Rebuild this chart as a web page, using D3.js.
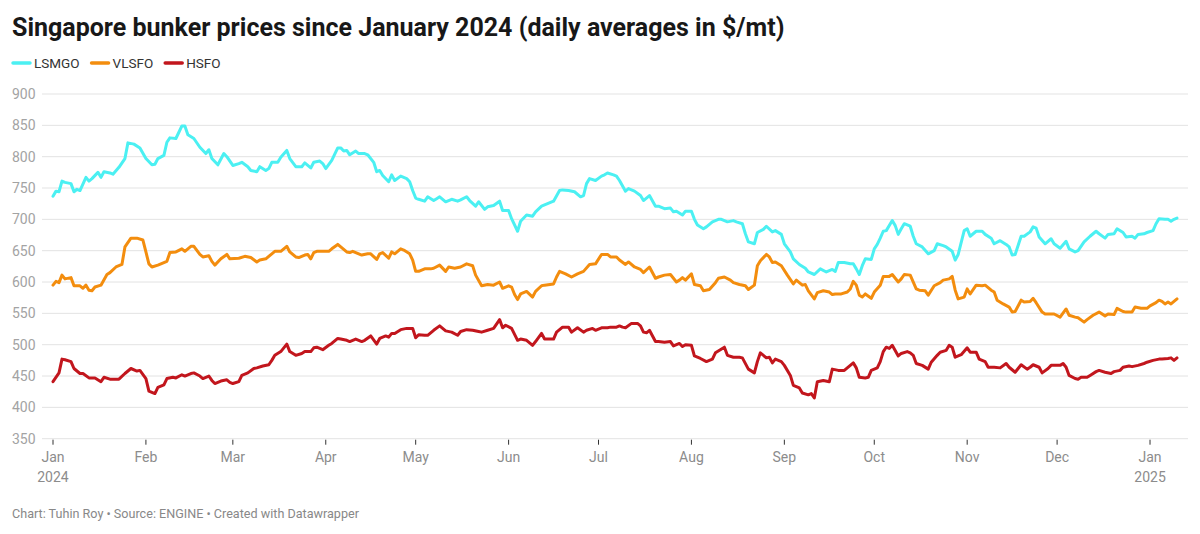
<!DOCTYPE html>
<html>
<head>
<meta charset="utf-8">
<script src="https://cdn.jsdelivr.net/npm/d3@7"></script>
<style>
    body { margin: 0; background: #fff; font-family: Roboto, "Noto Sans", sans-serif; }
</style>
</head>
<body>
<div id="chart"></div>
<script>
// day offsets from 1 Jan 2024, daily average price in $/mt
const startDate = new Date(2024, 0, 1);

const lsmgo = [[0,737],[1,745],[2,744],[3,761],[4,759],[6,757],[7,744],[8,748],[9,746],[11,767],[12,761],[13,765],[15,775],[16,767],[17,776],[19,774],[20,772],[22,783],[24,797],[25,822],[27,820],[29,814],[31,797],[33,787],[34,788],[35,797],[37,802],[38,823],[39,830],[41,829],[42,839],[43,849],[44,849],[45,835],[47,829],[49,815],[51,805],[52,811],[53,797],[55,787],[57,805],[58,800],[60,786],[62,789],[63,791],[65,784],[66,778],[68,776],[69,784],[71,778],[72,781],[73,791],[75,791],[76,799],[78,810],[79,797],[81,784],[83,784],[84,790],[86,782],[87,791],[89,793],[90,789],[91,781],[93,794],[95,814],[96,814],[97,809],[98,810],[99,803],[101,809],[102,805],[104,805],[105,803],[107,791],[108,776],[109,778],[110,770],[112,760],[113,771],[114,762],[116,769],[118,765],[119,760],[120,746],[121,734],[122,732],[124,729],[125,736],[127,730],[128,733],[129,736],[131,728],[132,730],[133,732],[135,729],[136,731],[138,736],[139,730],[141,721],[142,728],[144,716],[145,720],[147,722],[149,729],[150,714],[152,714],[153,701],[155,681],[156,697],[158,707],[160,705],[161,712],[163,721],[164,723],[167,729],[169,746],[170,747],[172,746],[174,744],[176,736],[177,738],[178,757],[179,765],[181,762],[183,769],[184,771],[185,774],[187,771],[188,769],[189,762],[191,745],[192,749],[194,745],[196,738],[197,730],[198,734],[199,738],[201,721],[202,721],[204,717],[206,718],[207,712],[208,713],[210,707],[211,713],[213,713],[214,700],[215,691],[217,685],[218,688],[220,696],[222,700],[223,700],[225,696],[227,698],[228,696],[230,693],[231,677],[232,664],[234,661],[235,679],[237,684],[238,689],[240,680],[241,682],[243,676],[244,661],[246,648],[247,637],[249,628],[251,622],[252,616],[254,612],[256,621],[258,616],[260,620],[261,617],[262,631],[264,631],[266,629],[267,629],[268,621],[269,612],[270,626],[271,637],[273,636],[274,653],[275,660],[276,670],[277,681],[278,682],[280,698],[281,690],[282,676],[283,685],[284,693],[286,689],[287,673],[288,661],[290,656],[292,645],[294,650],[295,661],[297,658],[298,656],[300,649],[301,635],[302,644],[304,682],[305,685],[306,673],[308,681],[310,681],[311,676],[313,670],[314,661],[316,666],[318,660],[319,656],[320,643],[321,644],[323,673],[324,673],[326,680],[327,688],[328,686],[329,672],[331,661],[333,669],[334,661],[336,654],[338,665],[339,653],[341,648],[342,650],[344,664],[346,673],[348,681],[349,677],[351,670],[352,676],[354,677],[355,685],[357,679],[358,672],[360,673],[361,670],[362,676],[364,677],[365,679],[367,682],[368,693],[369,701],[371,700],[372,700],[373,697],[374,700],[375,702]];

const vlsfo = [[0,595],[1,601],[2,599],[3,611],[4,605],[6,607],[7,594],[9,594],[10,590],[11,595],[12,587],[13,586],[14,592],[16,595],[18,612],[19,615],[21,624],[23,628],[24,656],[26,670],[28,670],[30,667],[31,648],[32,629],[33,624],[35,627],[37,631],[38,633],[39,647],[41,648],[43,653],[44,649],[46,657],[47,657],[49,644],[50,640],[52,642],[53,633],[54,627],[56,637],[58,644],[59,637],[62,638],[64,641],[66,639],[68,632],[69,635],[71,637],[73,645],[74,649],[76,649],[78,657],[79,648],[81,640],[82,639],[84,643],[85,644],[86,637],[87,647],[88,649],[90,649],[92,649],[93,653],[95,660],[96,656],[98,648],[99,647],[100,649],[102,645],[103,643],[105,645],[106,645],[108,636],[109,645],[110,647],[112,638],[113,648],[114,645],[116,653],[117,651],[119,645],[120,635],[121,617],[122,617],[124,621],[126,621],[127,622],[129,627],[131,617],[132,624],[134,622],[136,624],[138,629],[140,626],[141,611],[143,594],[145,596],[147,595],[149,600],[150,590],[152,594],[153,592],[154,580],[155,572],[156,581],[158,585],[160,576],[161,585],[163,594],[164,595],[167,597],[168,608],[169,617],[171,613],[173,608],[175,613],[177,617],[179,628],[181,629],[183,644],[185,644],[186,640],[188,640],[189,635],[191,628],[192,632],[194,624],[196,620],[197,615],[199,624],[201,606],[202,608],[204,611],[206,612],[208,600],[209,603],[210,607],[211,603],[213,613],[214,596],[216,594],[217,586],[219,588],[221,599],[222,606],[224,608],[226,603],[227,599],[229,596],[231,594],[232,588],[234,595],[235,626],[236,634],[238,644],[239,640],[240,631],[241,632],[243,626],[245,611],[247,597],[248,603],[250,595],[251,596],[252,586],[254,573],[255,583],[257,586],[259,584],[260,580],[261,581],[263,581],[265,584],[266,589],[267,601],[268,595],[269,579],[270,576],[271,581],[273,574],[274,584],[276,595],[277,609],[279,609],[280,612],[282,600],[283,605],[284,612],[286,611],[288,589],[289,587],[291,586],[292,579],[294,594],[296,599],[297,603],[299,605],[300,609],[301,587],[302,573],[304,576],[305,589],[306,581],[308,595],[310,594],[311,595],[313,587],[314,584],[315,571],[317,565],[319,560],[320,552],[321,553],[323,571],[324,568],[326,569],[327,574],[328,567],[330,552],[331,549],[334,549],[336,544],[338,557],[339,547],[341,544],[342,543],[344,536],[345,540],[347,547],[349,552],[351,546],[352,549],[354,548],[355,558],[357,553],[358,552],[360,552],[361,560],[363,558],[365,558],[366,562],[368,567],[369,571],[370,569],[371,565],[372,568],[373,565],[374,569],[375,573]];

const hsfo = [[0,441],[2,455],[3,477],[4,476],[6,473],[7,462],[9,454],[10,454],[12,447],[14,447],[16,441],[17,448],[19,445],[22,445],[24,454],[26,462],[28,458],[29,459],[31,446],[32,426],[34,422],[35,432],[37,436],[38,446],[40,448],[41,447],[43,452],[44,450],[46,454],[47,455],[49,450],[50,446],[52,450],[53,443],[54,438],[56,442],[58,444],[59,440],[60,438],[62,441],[63,451],[65,455],[67,462],[68,463],[70,466],[72,468],[73,475],[74,483],[76,489],[78,501],[79,489],[81,483],[83,486],[84,489],[86,489],[87,495],[88,496],[90,492],[92,499],[93,502],[95,510],[96,509],[98,507],[99,505],[101,509],[103,505],[104,507],[106,514],[108,501],[109,510],[111,514],[112,512],[113,518],[114,518],[116,524],[118,526],[120,526],[121,511],[122,516],[124,515],[125,515],[127,523],[129,530],[130,526],[131,522],[133,520],[135,515],[136,521],[138,524],[140,523],[142,521],[143,520],[145,523],[147,526],[149,540],[150,527],[151,531],[153,526],[155,507],[156,509],[158,507],[160,499],[161,505],[163,518],[164,509],[167,509],[168,520],[170,528],[172,528],[173,520],[175,527],[177,520],[178,523],[180,526],[181,523],[183,527],[185,527],[186,528],[188,528],[189,530],[190,528],[191,527],[193,534],[195,534],[196,530],[197,520],[198,519],[199,523],[201,505],[202,505],[204,504],[206,505],[207,498],[209,502],[210,497],[211,500],[213,499],[214,482],[216,478],[218,473],[220,477],[221,487],[224,496],[225,483],[227,480],[229,480],[230,479],[232,461],[234,455],[235,473],[236,487],[238,479],[239,480],[240,471],[241,477],[243,473],[244,467],[246,451],[247,435],[249,431],[250,423],[252,420],[253,422],[254,415],[255,441],[257,443],[259,441],[260,461],[262,459],[264,459],[265,463],[267,471],[268,463],[269,448],[271,447],[272,448],[273,459],[275,463],[276,473],[277,489],[278,496],[279,494],[280,499],[282,482],[283,486],[285,489],[286,487],[287,483],[288,470],[290,467],[292,461],[293,472],[295,483],[296,488],[298,491],[299,499],[300,496],[301,480],[303,484],[305,495],[306,488],[308,488],[309,477],[311,473],[312,464],[314,464],[316,463],[318,470],[319,464],[321,456],[322,462],[323,468],[325,461],[326,464],[327,468],[329,464],[330,455],[332,462],[333,467],[335,467],[336,467],[337,470],[338,464],[339,451],[341,446],[342,445],[343,448],[345,448],[346,451],[348,457],[349,459],[351,456],[353,454],[354,457],[356,459],[357,464],[359,466],[360,465],[362,467],[364,470],[365,472],[367,475],[369,477],[370,477],[372,478],[373,479],[374,475],[375,479]];

const seriesNames = ["LSMGO", "VLSFO", "HSFO"];
const seriesColors = ["#4bf0f2", "#f38d0e", "#c2161d"];
const yTicks = [350, 400, 450, 500, 550, 600, 650, 700, 750, 800, 850, 900];

const title = "Singapore bunker prices since January 2024 (daily averages in $/mt)";
const footer = "Chart: Tuhin Roy \u2022 Source: ENGINE \u2022 Created with Datawrapper";

const width = 1200, height = 534;
const plot = {left: 53, right: 1177, top: 94, bottom: 438.7};

const svg = d3.select("#chart")
    .append("svg")
    .attr("width", width)
    .attr("height", height);

const x = d3.scaleTime()
    .domain([startDate, d3.timeDay.offset(startDate, 375)])
    .range([plot.left, plot.right]);

const y = d3.scaleLinear()
    .domain([350, 900])
    .range([plot.bottom, plot.top]);

// title
svg.append("text")
    .attr("x", 12)
    .attr("y", 36)
    .style("font-size", "25px")
    .style("font-weight", "700")
    .style("fill", "#181818")
    .text(title);

// legend
const legend = svg.append("g");
let lx = 13;
seriesNames.forEach((name, i) => {
    const item = legend.append("g").attr("transform", `translate(${lx},63)`);
    item.append("line")
        .attr("x1", 0).attr("x2", 17)
        .attr("stroke", seriesColors[i])
        .attr("stroke-width", 3.5)
        .attr("stroke-linecap", "round");
    const t = item.append("text")
        .attr("x", 21)
        .attr("dominant-baseline", "central")
        .style("font-size", "13.5px")
        .style("fill", "#333")
        .text(name);
    lx += 21 + t.node().getComputedTextLength() + 12;
});

// y grid + labels
svg.append("g")
    .selectAll("line")
    .data(yTicks)
    .enter()
    .append("line")
    .attr("x1", 42)
    .attr("x2", 1188)
    .attr("y1", d => y(d))
    .attr("y2", d => y(d))
    .attr("stroke", "#e3e3e3")
    .attr("stroke-width", 1);

svg.append("g")
    .selectAll("text")
    .data(yTicks)
    .enter()
    .append("text")
    .attr("x", 12)
    .attr("y", d => y(d))
    .attr("dominant-baseline", "central")
    .style("font-size", "14px")
    .style("fill", "#a3a3a3")
    .text(d => d);

// x axis: month ticks
const months = d3.timeMonth.range(startDate, d3.timeDay.offset(startDate, 376));
const xAxis = svg.append("g");
xAxis.selectAll("line")
    .data(months)
    .enter()
    .append("line")
    .attr("x1", d => x(d))
    .attr("x2", d => x(d))
    .attr("y1", plot.bottom + 1)
    .attr("y2", plot.bottom + 6)
    .attr("stroke", "#333")
    .attr("stroke-width", 1);

const monthLabels = xAxis.selectAll("text")
    .data(months)
    .enter()
    .append("text")
    .attr("x", d => x(d))
    .attr("y", 462)
    .attr("text-anchor", "middle")
    .style("font-size", "14px")
    .style("fill", "#8c8c8c");
monthLabels.append("tspan").text(d3.timeFormat("%b"));
monthLabels.filter(d => d.getMonth() === 0)
    .append("tspan")
    .attr("x", d => x(d))
    .attr("dy", 20)
    .text(d3.timeFormat("%Y"));

// lines
const line = d3.line()
    .x(d => x(d3.timeDay.offset(startDate, d[0])))
    .y(d => y(d[1]));

[lsmgo, vlsfo, hsfo].forEach((data, i) => {
    svg.append("path")
        .datum(data)
        .attr("fill", "none")
        .attr("stroke", seriesColors[i])
        .attr("stroke-width", 3)
        .attr("stroke-linejoin", "round")
        .attr("stroke-linecap", "round")
        .attr("d", line);
});

// footer
svg.append("text")
    .attr("x", 12)
    .attr("y", 518)
    .style("font-size", "12.6px")
    .style("fill", "#888")
    .text(footer);
</script>
</body>
</html>
